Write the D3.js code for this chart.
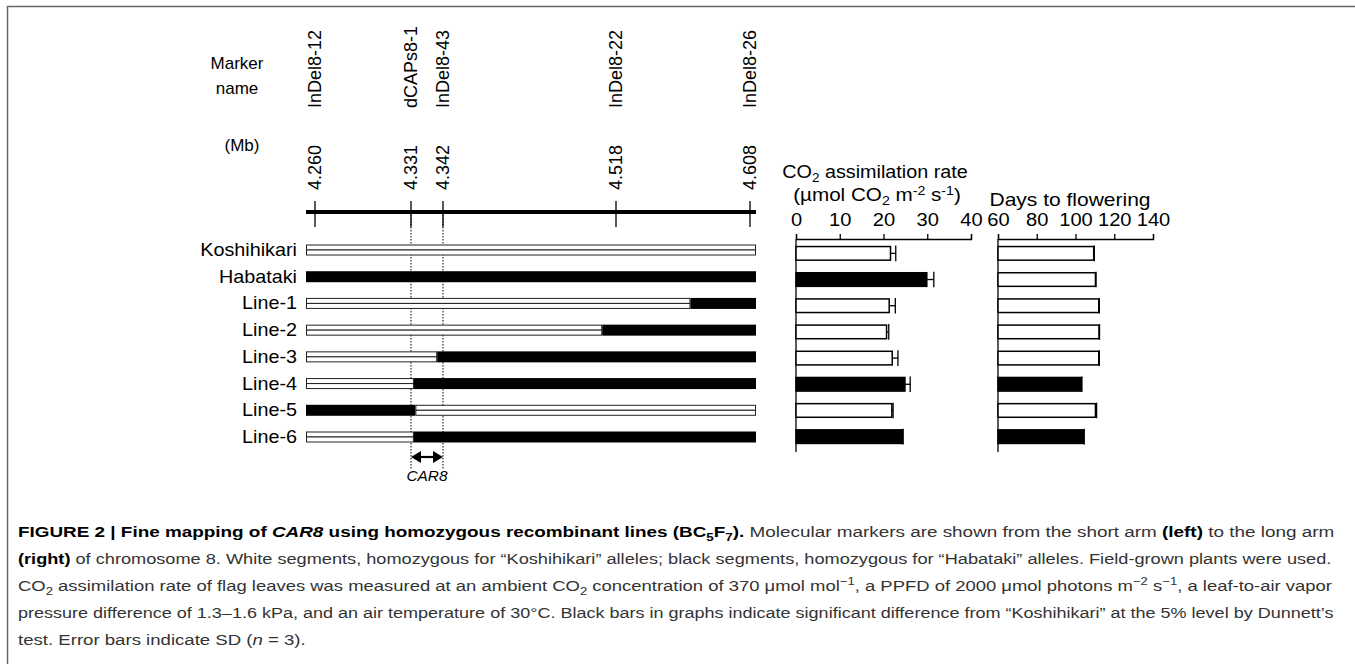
<!DOCTYPE html>
<html>
<head>
<meta charset="utf-8">
<script src="https://cdn.jsdelivr.net/npm/d3@7"></script>
<style>
  body { margin: 0; background: #fff; }
  svg { display: block; font-family: "Liberation Sans", Arial, sans-serif; }
</style>
</head>
<body>
<svg id="chart" width="1355" height="664"></svg>
<script>
// plant lines (rows)
const lines = ["Koshihikari", "Habataki", "Line-1", "Line-2", "Line-3", "Line-4", "Line-5", "Line-6"];

// markers on chromosome 8
const markers = ["InDel8-12", "dCAPs8-1", "InDel8-43", "InDel8-22", "InDel8-26"];
const markerMb = [4.260, 4.331, 4.342, 4.518, 4.608];
const markerLabels = ["4.260", "4.331", "4.342", "4.518", "4.608"];
const chromEnds = [4.254, 4.612];

// genotype: allele on left side, breakpoint (Mb) where it switches (null = no switch)
const leftAllele = ["K", "H", "K", "K", "K", "K", "H", "K"];
const breakpoint = [null, null, 4.568, 4.504, 4.340, 4.332, 4.3325, 4.332];

// CO2 assimilation rate
const co2Mean = [21.6, 29.9, 21.3, 20.7, 22.0, 24.9, 21.9, 24.3];
const co2SD = [1.2, 1.6, 1.4, 0.5, 1.3, 1.2, 0.3, 0.2];
const co2Sig = [false, true, false, false, false, true, false, true];
const co2Ticks = [0, 10, 20, 30, 40];

// days to flowering
const daysMean = [109.4, 110.3, 112.0, 112.1, 112.0, 103.0, 110.3, 104.2];
const daysSD = [0.3, 0.3, 0.3, 0.3, 0.3, 0.3, 0.6, 0.3];
const daysSig = [false, false, false, false, false, true, false, true];
const daysTicks = [60, 80, 100, 120, 140];

const svg = d3.select("#chart");

// widen text horizontally around its anchor point
function stretch(sel, s) {
  sel.each(function () {
    const t = d3.select(this);
    const x = +t.attr("x") || 0, y = +t.attr("y") || 0;
    t.attr("transform", `translate(${x},${y}) scale(${s},1)`).attr("x", 0).attr("y", 0);
  });
}

// frame
svg.append("path")
  .attr("d", "M7.5,664V6.5H1355")
  .attr("fill", "none")
  .attr("stroke", "#666")
  .attr("stroke-width", 1.5);

// schematic (not to scale) map positions
const xMap = d3.scaleLinear()
  .domain([chromEnds[0]].concat(markerMb, [chromEnds[1]]))
  .range([306, 315, 411, 443, 616, 750, 756]);

const yRow = d3.scalePoint().domain(lines).range([250, 437]);

// header labels
const head = svg.append("g").attr("font-size", 17).attr("fill", "#000");
head.append("text").attr("x", 237).attr("y", 69).attr("text-anchor", "middle").text("Marker");
head.append("text").attr("x", 237).attr("y", 94).attr("text-anchor", "middle").text("name");
head.append("text").attr("x", 242).attr("y", 151).attr("text-anchor", "middle").text("(Mb)");

head.selectAll(".mname")
  .data(markers)
  .enter()
  .append("text")
  .attr("class", "mname")
  .attr("font-size", 18)
  .attr("transform", (d, i) => `translate(${xMap(markerMb[i])},108) rotate(-90)`)
  .attr("dy", "0.35em")
  .text(d => d);

head.selectAll(".mpos")
  .data(markerLabels)
  .enter()
  .append("text")
  .attr("class", "mpos")
  .attr("font-size", 18)
  .attr("transform", (d, i) => `translate(${xMap(markerMb[i])},190) rotate(-90)`)
  .attr("dy", "0.35em")
  .text(d => d);

// chromosome line
svg.append("line")
  .attr("x1", xMap(chromEnds[0])).attr("x2", xMap(chromEnds[1]))
  .attr("y1", 212).attr("y2", 212)
  .attr("stroke", "#000").attr("stroke-width", 4);

svg.selectAll(".mtick")
  .data(markerMb)
  .enter()
  .append("line")
  .attr("class", "mtick")
  .attr("x1", d => xMap(d)).attr("x2", d => xMap(d))
  .attr("y1", 201).attr("y2", 227)
  .attr("stroke", "#000").attr("stroke-width", 1.3);

// dotted lines bounding CAR8
const car8 = [markerMb[1], markerMb[2]];
svg.selectAll(".dots")
  .data(car8)
  .enter()
  .append("line")
  .attr("x1", d => xMap(d)).attr("x2", d => xMap(d))
  .attr("y1", 212).attr("y2", 470)
  .attr("stroke", "#000").attr("stroke-width", 1)
  .attr("stroke-dasharray", "1.5,1.5");

// double-headed arrow
const ax0 = xMap(car8[0]), ax1 = xMap(car8[1]), ay = 457;
svg.append("line")
  .attr("x1", ax0 + 6).attr("x2", ax1 - 6)
  .attr("y1", ay).attr("y2", ay)
  .attr("stroke", "#000").attr("stroke-width", 2.2);
svg.append("path")
  .attr("d", `M${ax0},${ay}L${ax0 + 10},${ay - 6}L${ax0 + 10},${ay + 6}Z M${ax1},${ay}L${ax1 - 10},${ay - 6}L${ax1 - 10},${ay + 6}Z`)
  .attr("fill", "#000");
const car8Lab = svg.append("text")
  .attr("x", (ax0 + ax1) / 2).attr("y", 481)
  .attr("text-anchor", "middle")
  .attr("font-size", 14).attr("font-style", "italic")
  .text("CAR8");
stretch(car8Lab, 1.1);

// row labels
const rowLab = svg.selectAll(".rlab")
  .data(lines)
  .enter()
  .append("text")
  .attr("class", "rlab")
  .attr("x", 297)
  .attr("y", d => yRow(d) + 6)
  .attr("text-anchor", "end")
  .attr("font-size", 18)
  .text(d => d);
stretch(rowLab, 1.1);

// genotype segments
const segs = [];
lines.forEach((name, i) => {
  const other = leftAllele[i] === "K" ? "H" : "K";
  if (breakpoint[i] === null) {
    segs.push({ name, a: chromEnds[0], b: chromEnds[1], allele: leftAllele[i] });
  } else {
    segs.push({ name, a: chromEnds[0], b: breakpoint[i], allele: leftAllele[i] });
    segs.push({ name, a: breakpoint[i], b: chromEnds[1], allele: other });
  }
});

const gh = 11;
const geno = svg.append("g");
segs.forEach(s => {
  const x = xMap(s.a), w = xMap(s.b) - xMap(s.a), y = yRow(s.name) - gh / 2;
  if (s.allele === "H") {
    geno.append("rect").attr("x", x).attr("y", y).attr("width", w).attr("height", gh)
      .attr("fill", "#000");
  } else {
    geno.append("rect").attr("x", x + 0.5).attr("y", y + 0.5).attr("width", w - 1).attr("height", gh / 2 - 0.5)
      .attr("fill", "#fff").attr("stroke", "#222").attr("stroke-width", 1);
    geno.append("rect").attr("x", x + 0.5).attr("y", y + gh / 2).attr("width", w - 1).attr("height", gh / 2 - 0.5)
      .attr("fill", "#fff").attr("stroke", "#222").attr("stroke-width", 1);
  }
});

// bar charts
const yBar = d3.scaleBand().domain(lines).range([240, 450]).paddingInner(0.48).paddingOuter(0.25);

function barChart(x, means, sds, sig, ticks) {
  const g = svg.append("g");
  const axis = d3.axisTop(x).tickValues(ticks).tickSize(5).tickSizeOuter(5).tickPadding(8);
  const ga = g.append("g").attr("transform", "translate(0,239)").call(axis);
  ga.selectAll("path, line").attr("stroke", "#000").attr("stroke-width", 1.3);
  ga.selectAll("text")
    .attr("font-size", 19)
    .attr("font-family", "Liberation Sans, Arial, sans-serif")
    .attr("fill", "#000")
    .attr("transform", "scale(1.06,1)");

  g.append("line")
    .attr("x1", x.range()[0]).attr("x2", x.range()[0])
    .attr("y1", 239).attr("y2", 452)
    .attr("stroke", "#000").attr("stroke-width", 1.3);

  lines.forEach((name, i) => {
    const y = yBar(name), h = yBar.bandwidth();
    const x0 = x.range()[0], xm = x(means[i]), xe = x(means[i] + sds[i]);
    g.append("line").attr("x1", xm).attr("x2", xe).attr("y1", y + h / 2).attr("y2", y + h / 2)
      .attr("stroke", "#000").attr("stroke-width", 1.3);
    g.append("line").attr("x1", xe).attr("x2", xe).attr("y1", y - 1).attr("y2", y + h + 1)
      .attr("stroke", "#000").attr("stroke-width", 1.3);
    g.append("rect")
      .attr("x", x0).attr("y", y).attr("width", xm - x0).attr("height", h)
      .attr("fill", sig[i] ? "#000" : "#fff")
      .attr("stroke", "#000").attr("stroke-width", 1.5);
  });
}

const xCO2 = d3.scaleLinear().domain([0, 40]).range([796, 971]);
const xDays = d3.scaleLinear().domain([60, 140]).range([998, 1153]);
barChart(xCO2, co2Mean, co2SD, co2Sig, co2Ticks);
barChart(xDays, daysMean, daysSD, daysSig, daysTicks);

// chart titles
const t1 = svg.append("text").attr("x", 875).attr("y", 178).attr("text-anchor", "middle").attr("font-size", 17.5);
t1.append("tspan").text("CO");
t1.append("tspan").attr("font-size", 12).attr("dy", 4).text("2");
t1.append("tspan").attr("dy", -4).text(" assimilation rate");
const t2 = svg.append("text").attr("x", 877).attr("y", 201).attr("text-anchor", "middle").attr("font-size", 17.5);
t2.append("tspan").text("(\u00b5mol CO");
t2.append("tspan").attr("font-size", 12).attr("dy", 4).text("2");
t2.append("tspan").attr("dy", -4).text(" m");
t2.append("tspan").attr("font-size", 12).attr("dy", -6).text("-2");
t2.append("tspan").attr("dy", 6).text(" s");
t2.append("tspan").attr("font-size", 12).attr("dy", -6).text("-1");
t2.append("tspan").attr("dy", 6).text(")");
const t3 = svg.append("text").attr("x", 1070).attr("y", 206).attr("text-anchor", "middle").attr("font-size", 17.5)
  .text("Days to flowering");
stretch(t1, 1.13);
stretch(t2, 1.18);
stretch(t3, 1.2);

// caption
const capLines = [
  [["FIGURE 2 | Fine mapping of ", "b"], ["CAR8", "bi"], [" using homozygous recombinant lines (BC", "b"], ["5", "b sub"], ["F", "b"], ["7", "b sub"], [").", "b"],
   [" Molecular markers are shown from the short arm ", ""], ["(left)", "b"], [" to the long arm", ""]],
  [["(right)", "b"], [" of chromosome 8. White segments, homozygous for \u201cKoshihikari\u201d alleles; black segments, homozygous for \u201cHabataki\u201d alleles. Field-grown plants were used.", ""]],
  [["CO", ""], ["2", "sub"], [" assimilation rate of flag leaves was measured at an ambient CO", ""], ["2", "sub"], [" concentration of 370 \u03bcmol mol", ""], ["\u22121", "sup"],
   [", a PPFD of 2000 \u03bcmol photons m", ""], ["\u22122", "sup"], [" s", ""], ["\u22121", "sup"], [", a leaf-to-air vapor", ""]],
  [["pressure difference of 1.3\u20131.6 kPa, and an air temperature of 30\u00b0C. Black bars in graphs indicate significant difference from \u201cKoshihikari\u201d at the 5% level by Dunnett\u2019s", ""]],
  [["test. Error bars indicate SD (", ""], ["n", "i"], [" = 3).", ""]]
];
const capBase = [537, 564, 591, 618, 645];
const capEnd = [1336, 1333, 1333, 1334, null];

capLines.forEach((parts, li) => {
  const t = svg.append("text").attr("x", 18).attr("y", capBase[li]).attr("font-size", 15.5).attr("fill", "#333");
  let shift = 0;
  parts.forEach(([txt, st]) => {
    const flags = st.split(/\s+/);
    const sp = t.append("tspan").text(txt);
    let want = 0;
    if (flags.includes("sub")) want = 4;
    if (flags.includes("sup")) want = -6;
    sp.attr("dy", want - shift);
    shift = want;
    if (want !== 0) sp.attr("font-size", 11);
    if (flags.includes("b") || flags.includes("bi")) sp.attr("font-weight", "bold").attr("fill", "#000");
    if (flags.includes("i") || flags.includes("bi")) sp.attr("font-style", "italic");
  });
  const w = t.node().getComputedTextLength();
  const s = capEnd[li] ? (capEnd[li] - 18) / w : 1.2;
  stretch(t, s);
});
</script>
</body>
</html>
